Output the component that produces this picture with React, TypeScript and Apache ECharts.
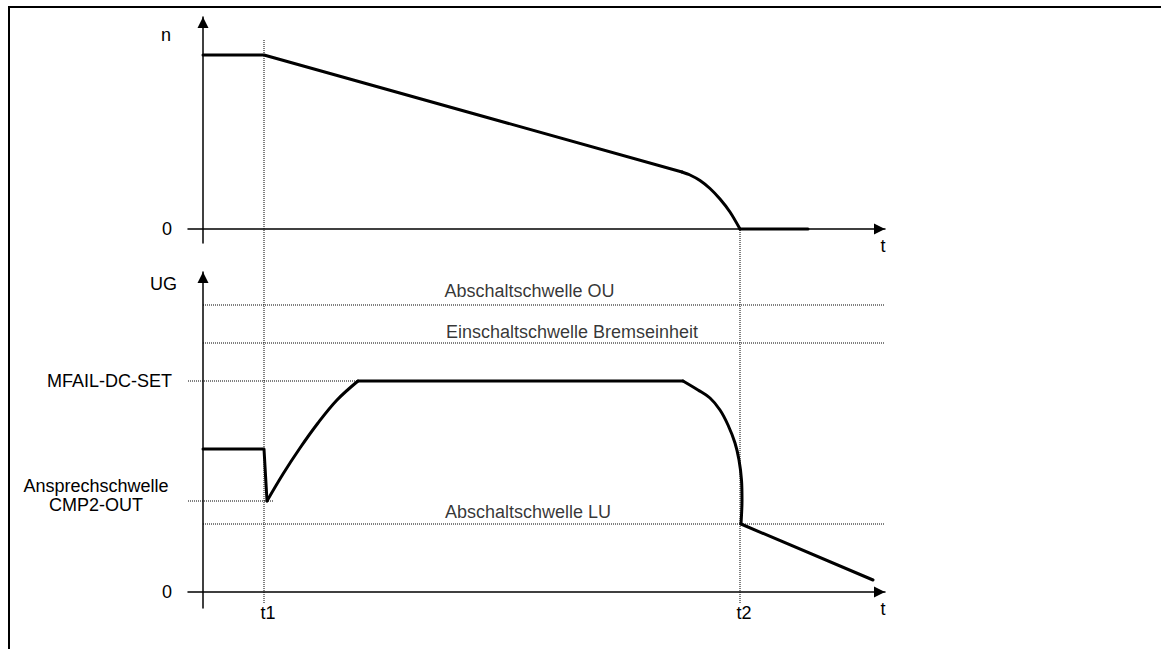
import React, { useEffect, useRef } from "react";
import * as echarts from "echarts";

const FONT = 'Arial, "Liberation Sans", Helvetica, sans-serif';

// ---- time axis (arbitrary units) ----
const T_MIN = -1.5;
const T_MAX = 68.2;
const eventNames = ["t1", "t2"];
const eventTimes = [6.1, 53.7];

// ---- speed n (top diagram) ----
const N_MIN = -1.4;
const N_MAX = 21.2;
const speedT = [0, 6.1, 47.9, 48.7, 49.7, 50.7, 51.7, 52.7, 53.7, 60.5];
const speedN = [17.4, 17.4, 5.7, 5.4, 4.85, 4.05, 3.0, 1.7, 0, 0];
// index range of the rounded part of the speed curve
const speedCurve = [2, 8];

// ---- DC-link voltage UG (bottom diagram) ----
const U_MIN = -1.6;
const U_MAX = 32;
const voltT = [0, 6.1, 6.4, 8.0, 9.7, 11.5, 13.4, 15.5, 48.0, 49.5, 50.7, 51.7, 52.5, 53.2, 53.6, 53.85, 53.9, 53.8, 67.0];
const voltU = [14.3, 14.3, 9.1, 11.8, 14.4, 16.9, 19.2, 21.1, 21.1, 20.2, 19.4, 18.2, 16.7, 14.9, 13.2, 11.2, 9.2, 6.8, 1.2];
// index ranges of the rounded parts of the voltage curve
const voltCurves = [[2, 7], [8, 17]];

// ---- thresholds ----
const thresholdNames = ["Abschaltschwelle OU", "Einschaltschwelle Bremseinheit", "MFAIL-DC-SET", "Ansprechschwelle CMP2-OUT", "Abschaltschwelle LU"];
const thresholdLevels = [28.7, 24.9, 21.1, 9.1, 6.8];
const thresholdFrom = [0, 0, -1.5, -1.5, 0];
const thresholdTo = [68.2, 68.2, 48.0, 7.0, 68.2];

// labels drawn next to the y axis of the bottom diagram
const uAxisLabelNames = ["0", "MFAIL-DC-SET", "Ansprechschwelle\nCMP2-OUT"];
const uAxisLabelValues = [0, 21.1, 9.1];

// labels written above threshold lines (layout anchor in data units)
const lineLabelTexts = ["Abschaltschwelle OU", "Einschaltschwelle Bremseinheit", "Abschaltschwelle LU"];
const lineLabelAnchorT = [32.65, 36.9, 32.5];
const lineLabelAnchorU = [30.1, 26.0, 8.05];

// vertical guide extents in overlay grid units
const GUIDE_MAX = 56.3;
const guideTop = [56.3, 37.4];

const txt = { color: "#000", fontFamily: FONT, fontSize: 18 };
const axisLine = {
  show: true,
  onZero: true,
  symbol: ["none", "triangle"],
  symbolSize: [11, 11],
  symbolOffset: [0, -5.5],
  lineStyle: { color: "#000", width: 1.5 },
};
const dotted = { color: "#000", width: 1, type: [1, 1] as any };
const curveStyle = { color: "#000", width: 3, join: "round", cap: "round" };

function near(a: number, b: number) {
  return Math.abs(a - b) < 1e-6;
}

export default function App() {
  const ref = useRef<HTMLDivElement>(null);
  useEffect(() => {
    document.body.style.margin = "0";
    if (!ref.current) return;
    const chart = echarts.init(ref.current, undefined, { renderer: "svg" });

    const zip = (xs: number[], ys: number[]) => xs.map((x, i) => [x, ys[i]]);

    // split a polyline into straight and rounded (smoothed) pieces
    const pieces = (xs: number[], ys: number[], curves: number[][]) => {
      const pts = zip(xs, ys);
      const out: { data: number[][]; smooth: boolean }[] = [];
      let cur = 0;
      curves.forEach(([a, b]) => {
        if (a > cur) out.push({ data: pts.slice(cur, a + 1), smooth: false });
        out.push({ data: pts.slice(a, b + 1), smooth: true });
        cur = b;
      });
      if (cur < pts.length - 1) out.push({ data: pts.slice(cur), smooth: false });
      return out;
    };

    const series: any[] = [];
    // vertical guides t1/t2
    eventTimes.forEach((t, i) => {
      series.push({
        type: "line",
        xAxisIndex: 2,
        yAxisIndex: 2,
        data: [[t, 0], [t, guideTop[i]]],
        symbol: "none",
        lineStyle: dotted,
        silent: true,
        z: 1,
      });
    });
    // thresholds
    thresholdLevels.forEach((lv, i) => {
      series.push({
        type: "line",
        name: thresholdNames[i],
        xAxisIndex: 1,
        yAxisIndex: 1,
        data: [[thresholdFrom[i], lv], [thresholdTo[i], lv]],
        symbol: "none",
        lineStyle: dotted,
        silent: true,
        z: 1,
      });
    });
    // speed curve
    pieces(speedT, speedN, [speedCurve]).forEach((p) => {
      series.push({
        type: "line",
        name: "n",
        xAxisIndex: 0,
        yAxisIndex: 0,
        data: p.data,
        smooth: p.smooth ? 0.3 : false,
        symbol: "none",
        lineStyle: curveStyle,
        z: 5,
      });
    });
    // voltage curve
    pieces(voltT, voltU, voltCurves).forEach((p) => {
      series.push({
        type: "line",
        name: "UG",
        xAxisIndex: 1,
        yAxisIndex: 1,
        data: p.data,
        smooth: p.smooth ? 0.35 : false,
        symbol: "none",
        lineStyle: curveStyle,
        z: 5,
      });
    });
    // labels above threshold lines
    series.push({
      type: "scatter",
      xAxisIndex: 1,
      yAxisIndex: 1,
      symbolSize: 0,
      silent: true,
      data: lineLabelTexts.map((n, i) => ({ name: n, value: [lineLabelAnchorT[i], lineLabelAnchorU[i]] })),
      label: {
        show: true,
        position: "inside",
        formatter: (p: any) => p.name,
        ...txt,
        align: "center",
        verticalAlign: "middle",
      },
      z: 6,
    });

    const xBase = (gridIndex: number, withLabels: boolean) => ({
      type: "value",
      gridIndex,
      min: T_MIN,
      max: T_MAX,
      name: gridIndex === 2 ? "" : "t",
      nameLocation: "end",
      nameGap: -2,
      nameTextStyle: { ...txt, align: "center", verticalAlign: "top", lineHeight: 34 },
      axisLine: gridIndex === 2 ? { show: false } : axisLine,
      axisTick: { show: false },
      splitLine: { show: false },
      axisLabel: withLabels
        ? {
            show: true,
            customValues: eventTimes,
            formatter: (v: number) => {
              const i = eventTimes.findIndex((e) => near(e, v));
              return i >= 0 ? eventNames[i] : "";
            },
            margin: -4,
            padding: [0, 0, 0, 8],
            ...txt,
          }
        : { show: false },
    });

    chart.setOption({
      animation: false,
      backgroundColor: "#fff",
      grid: [
        { left: 188, top: 17, width: 697, height: 226 },
        { left: 188, top: 272, width: 697, height: 336 },
        { left: 188, top: 40, width: 697, height: 563 },
      ],
      xAxis: [xBase(0, false), xBase(1, true), xBase(2, false)],
      yAxis: [
        {
          type: "value",
          gridIndex: 0,
          min: N_MIN,
          max: N_MAX,
          name: "n",
          nameLocation: "end",
          nameGap: -18,
          nameTextStyle: { ...txt, align: "right", verticalAlign: "middle", padding: [0, 32, 0, 0] },
          axisLine,
          axisTick: { show: false },
          splitLine: { show: false },
          axisLabel: { show: true, customValues: [0], formatter: () => "0", margin: 16, ...txt },
        },
        {
          type: "value",
          gridIndex: 1,
          min: U_MIN,
          max: U_MAX,
          name: "UG",
          nameLocation: "end",
          nameGap: -12,
          nameTextStyle: { ...txt, align: "right", verticalAlign: "middle", padding: [0, 26, 0, 0] },
          axisLine,
          axisTick: { show: false },
          splitLine: { show: false },
          axisLabel: {
            show: true,
            customValues: uAxisLabelValues,
            margin: 16,
            ...txt,
            formatter: (v: number) => {
              const i = uAxisLabelValues.findIndex((e) => near(e, v));
              if (i < 0) return "";
              const s = uAxisLabelNames[i];
              if (s.indexOf("\n") >= 0) {
                return s
                  .split("\n")
                  .map((l) => "{c|" + l + "}")
                  .join("\n") + "\n{g|}";
              }
              return s;
            },
            rich: {
              c: { width: 152, align: "center", fontSize: 18, lineHeight: 19, fontFamily: FONT, color: "#000" },
              g: { height: 12, lineHeight: 12, fontSize: 1 },
            },
          },
        },
        {
          type: "value",
          gridIndex: 2,
          min: 0,
          max: GUIDE_MAX,
          show: false,
        },
      ],
      series,
      graphic: [
        { type: "line", shape: { x1: 8, y1: 7, x2: 1161, y2: 7 }, style: { stroke: "#000", lineWidth: 2 }, silent: true },
        { type: "line", shape: { x1: 9, y1: 6, x2: 9, y2: 649 }, style: { stroke: "#000", lineWidth: 2 }, silent: true },
      ],
    });
    return () => chart.dispose();
  }, []);
  return <div ref={ref} style={{ width: 1161, height: 649 }} />;
}
